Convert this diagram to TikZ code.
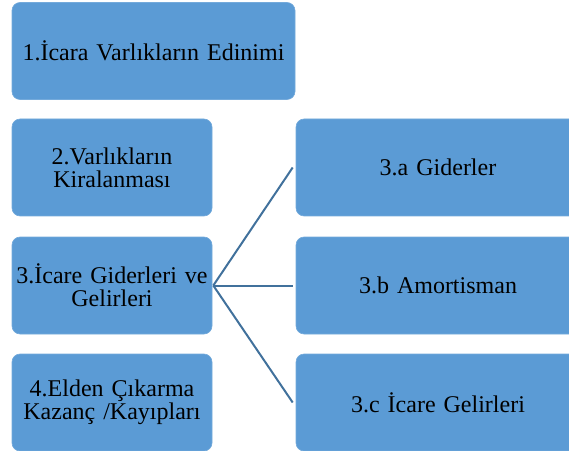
\documentclass[tikz,border=0pt]{standalone}
\usepackage{fontspec}
\setmainfont{Liberation Serif}
\usepackage{tikz}
\usetikzlibrary{positioning}

\definecolor{boxblue}{HTML}{5B9BD5}
\definecolor{edgeblue}{HTML}{41719C}

\tikzset{
    stagebox/.style={fill=boxblue, draw=boxblue!85!white, line width=0.6pt, rounded corners=8pt,
        align=center, font=\fontsize{24}{23}\selectfont, inner sep=2pt},
    leftbox/.style={stagebox, minimum width=200pt, minimum height=97pt, text width=194pt},
    widebox/.style={stagebox, minimum width=284pt, minimum height=97pt, text width=278pt},
    link/.style={edgeblue, line width=2pt}
}

\begin{document}
\begin{tikzpicture}[x=1pt, y=1pt]
    \useasboundingbox (0,0) rectangle (569,450);

    % left column
    \node[widebox, minimum width=283pt, text width=277pt] (acq) at (153.5,399) {1.İcara Varlıkların Edinimi};
    \node[leftbox] (rent) at (112,282.5) {2.Varlıkların\\Kiralanması};
    \node[leftbox] (inc) at (112,164.5) {3.İcare Giderleri ve\\Gelirleri};
    \node[leftbox] (disp) at (112,47.5) {4.Elden Çıkarma\\Kazanç /Kayıpları};

    % right column
    \node[widebox] (exp) at (438,282.5) {3.a Giderler};
    \node[widebox] (amort) at (438,164.5) {3.b Amortisman};
    \node[widebox] (incm) at (438,47.5) {3.c İcare Gelirleri};

    % connectors
    \foreach \target in {exp, amort, incm}
        \draw[link] ([xshift=1pt]inc.east) -- ([xshift=-3pt]\target.west);
\end{tikzpicture}
\end{document}
